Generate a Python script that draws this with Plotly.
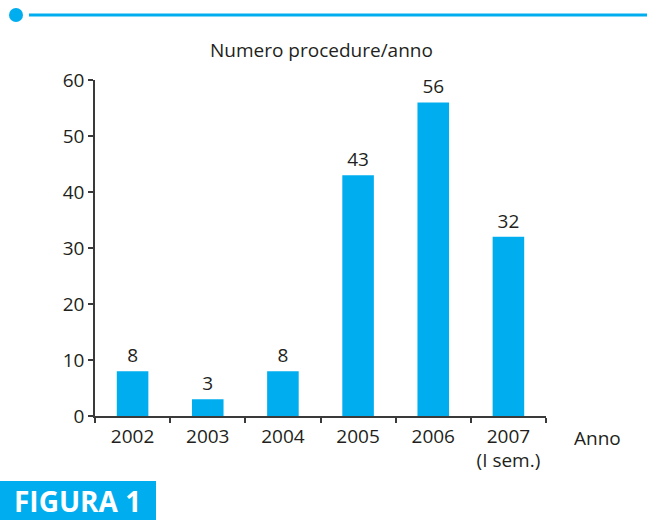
import plotly.graph_objects as go

categories = ["2002", "2003", "2004", "2005", "2006", "2007<br>(I sem.)"]
values = [8, 3, 8, 43, 56, 32]
y_ticks = [0, 10, 20, 30, 40, 50, 60]

CYAN = "#00AEEF"
TXT = "#231F20"
FONT = "Open Sans, Noto Sans, sans-serif"
FS = 19

fig = go.Figure()
fig.add_trace(go.Bar(
    x=categories, y=values, width=0.42,
    marker=dict(color=CYAN, line=dict(width=0)),
    text=[str(v) for v in values], textposition="outside",
    textfont=dict(size=FS, color=TXT, family=FONT),
    cliponaxis=False,
))

fig.update_layout(
    width=647, height=520,
    margin=dict(l=95, r=101, t=80, b=104),
    paper_bgcolor="white", plot_bgcolor="white",
    showlegend=False,
    font=dict(family=FONT, color=TXT, size=FS),
    xaxis=dict(
        type="category", range=[-0.5, 5.5],
        showline=True, linecolor="#3a3a3a", linewidth=1.5,
        ticks="outside", tickson="boundaries", ticklen=5, tickcolor="#3a3a3a", tickwidth=1.5,
        showgrid=False, zeroline=False, ticklabelstandoff=2,
        tickfont=dict(size=FS, color=TXT, family=FONT),
    ),
    yaxis=dict(
        range=[0, 60], tickvals=y_ticks,
        showline=True, linecolor="#3a3a3a", linewidth=1.5,
        ticks="outside", ticklen=5, tickcolor="#3a3a3a", tickwidth=1.5,
        showgrid=False, zeroline=False,
        tickfont=dict(size=FS, color=TXT, family=FONT),
    ),
)

PW, PH = 451, 336

# decorative header line with dot
fig.add_shape(type="line", xref="paper", yref="paper",
              x0=(29 - 95) / PW, x1=(647 - 95) / PW,
              y0=1 + (80 - 15) / PH, y1=1 + (80 - 15) / PH,
              line=dict(color=CYAN, width=3))
fig.add_shape(type="circle", xref="paper", yref="paper",
              x0=(9 - 95) / PW, x1=(23 - 95) / PW,
              y0=1 + (80 - 22) / PH, y1=1 + (80 - 8) / PH,
              fillcolor=CYAN, line=dict(width=0))

# "FIGURA 1" box
fig.add_shape(type="rect", xref="paper", yref="paper",
              x0=(0 - 95) / PW, x1=(156 - 95) / PW,
              y0=-(520 - 416) / PH, y1=-(481 - 416) / PH,
              fillcolor=CYAN, line=dict(width=0))
fig.add_annotation(text="<b>FIGURA 1</b>", xref="paper", yref="paper",
                   x=(77 - 95) / PW, y=-(501 - 416) / PH,
                   showarrow=False, xanchor="center", yanchor="middle",
                   borderpad=0,
                   font=dict(size=28, color="white", family=FONT))

# chart title
fig.add_annotation(text="Numero procedure/anno", xref="paper", yref="paper",
                   x=(321 - 95) / PW, y=1 + (80 - 50) / PH,
                   showarrow=False, xanchor="center", yanchor="middle",
                   font=dict(size=FS, color=TXT, family=FONT))

# axis label
fig.add_annotation(text="Anno", xref="paper", yref="paper",
                   x=(597 - 95) / PW, y=-(438 - 416) / PH,
                   showarrow=False, xanchor="center", yanchor="middle",
                   font=dict(size=FS, color=TXT, family=FONT))

fig.write_html("out.html", config={"displayModeBar": False},
               post_script="document.body.style.margin='0';document.body.style.padding='0';")
